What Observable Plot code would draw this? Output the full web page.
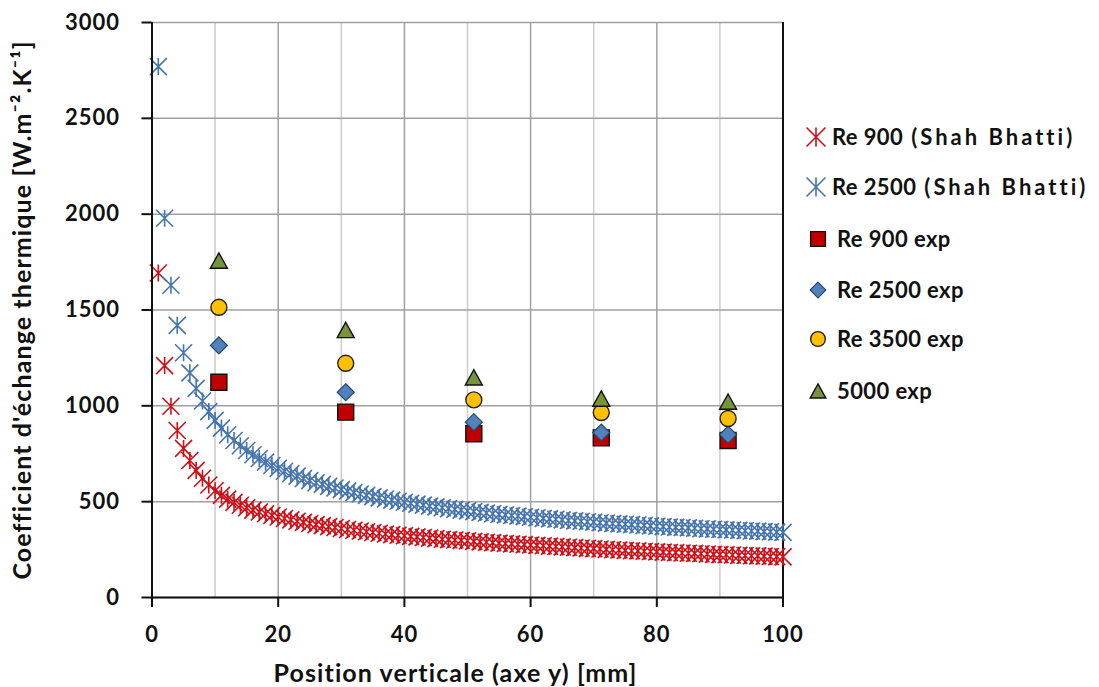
<!DOCTYPE html>
<html><head><meta charset="utf-8">
<script src="https://cdn.jsdelivr.net/npm/d3@7"></script>
<script src="https://cdn.jsdelivr.net/npm/@observablehq/plot@0.6"></script>
<style>
body{margin:0;background:#fff;}
#wrap{position:relative;width:1099px;height:687px;font-family:Lato,sans-serif;font-weight:bold;}
.item{position:absolute;display:flex;align-items:center;white-space:nowrap;font-size:22px;color:#111;line-height:1;letter-spacing:0.4px;}
.item svg{overflow:visible}
.wide{letter-spacing:3px;margin-left:8px}
</style></head><body><div id="wrap"></div>
<script>
// ---- data ----
const positionMm = [1,2,3,4,5,6,7,8,9,10,11,12,13,14,15,16,17,18,19,20,21,22,23,24,25,26,27,28,29,30,31,32,33,34,35,36,37,38,39,40,41,42,43,44,45,46,47,48,49,50,51,52,53,54,55,56,57,58,59,60,61,62,63,64,65,66,67,68,69,70,71,72,73,74,75,76,77,78,79,80,81,82,83,84,85,86,87,88,89,90,91,92,93,94,95,96,97,98,99,100];
const re900ShahBhatti = [1693,1210,998,871,778,715,663,622,587,557,
 533,513,496,481,468,456,446,437,428,420,
 412,405,398,392,386,380,375,370,365,360,
 355,351,347,343,339,335,331,328,325,322,
 319,316,313,310,307,304,302,300,298,296,
 293,290,288,286,284,282,280,278,276,274,
 272,270,268,266,264,262,260,258,256,255,
 253,251,249,248,246,244,243,241,240,238,
 237,235,234,232,231,230,228,227,225,224,
 223,222,220,219,218,217,216,214,213,212];
const re2500ShahBhatti = [2770,1979,1629,1420,1277,1172,1091,1025,970,924,
 884,849,819,792,767,745,725,706,689,674,
 659,646,633,621,610,599,590,580,571,563,
 555,547,540,533,526,520,514,508,502,497,
 492,487,482,477,473,468,464,460,456,452,
 448,444,441,437,434,431,428,425,422,419,
 416,413,410,408,405,402,400,398,395,393,
 390,388,386,384,382,380,378,376,374,372,
 370,368,366,365,363,361,359,358,356,355,
 353,352,350,348,347,346,344,343,341,340];
const expPositionMm = [10.6, 30.7, 51.0, 71.2, 91.3];
const re900Exp  = [1123, 967, 854, 833, 819];
const re2500Exp = [1315, 1071, 915, 861, 850];
const re3500Exp = [1514, 1222, 1031, 965, 934];
const re5000Exp = [1758, 1396, 1149, 1038, 1022];
const xTicks = [0, 20, 40, 60, 80, 100];
const xMinorGrid = [10, 30, 50, 70, 90];
const yTicks = [0, 500, 1000, 1500, 2000, 2500, 3000];
const legendLabels = [["Re 900", "(Shah Bhatti)"], ["Re 2500", "(Shah Bhatti)"], ["Re 900 exp"], ["Re 2500 exp"], ["Re 3500 exp"], ["5000 exp"]];

// ---- symbols ----
const rOf = s => Math.sqrt(s / Math.PI);
const asterisk = {draw(c, s){const r=rOf(s); c.moveTo(-r,-r); c.lineTo(r,r); c.moveTo(-r,r); c.lineTo(r,-r); c.moveTo(0,-r); c.lineTo(0,r);}};
const square = {draw(c, s){const r=rOf(s); c.moveTo(-r,-r); c.lineTo(r,-r); c.lineTo(r,r); c.lineTo(-r,r); c.closePath();}};
const diamond = {draw(c, s){const r=rOf(s); c.moveTo(0,-r); c.lineTo(r,0); c.lineTo(0,r); c.lineTo(-r,0); c.closePath();}};
const circle = {draw(c, s){const r=rOf(s); c.moveTo(r,0); c.arc(0,0,r,0,2*Math.PI); c.closePath();}};
const triangle = {draw(c, s){const r=rOf(s); c.moveTo(0,-0.9*r); c.lineTo(r,0.9*r); c.lineTo(-r,0.9*r); c.closePath();}};

const red = "#cf1018", blue = "#4674ad";
const series = [
  {sym: asterisk, r: 8.5, fill: "none", stroke: red, sw: 1.6},
  {sym: asterisk, r: 8.5, fill: "none", stroke: blue, sw: 1.6},
  {sym: square, r: 8, fill: "#c00000", stroke: "#111", sw: 1.4},
  {sym: diamond, r: 8.5, fill: "#4f81bd", stroke: "#2b4768", sw: 1.2},
  {sym: circle, r: 8, fill: "#ffc000", stroke: "#222", sw: 1.4},
  {sym: triangle, r: 8.5, fill: "#77933c", stroke: "#111", sw: 1.4}
];
const sb = (ys) => positionMm.map((x, i) => ({x, y: ys[i]}));
const ex = (ys) => expPositionMm.map((x, i) => ({x, y: ys[i]}));
const datasets = [sb(re900ShahBhatti), sb(re2500ShahBhatti), ex(re900Exp), ex(re2500Exp), ex(re3500Exp), ex(re5000Exp)];

const chart = Plot.plot({
  width: 1099, height: 687,
  marginLeft: 151.5, marginRight: 316.5, marginTop: 22, marginBottom: 90,
  x: {domain: [0, 100], labelArrow: "none"},
  y: {domain: [0, 3000], labelArrow: "none"},
  style: {fontFamily: "Lato, sans-serif", fontSize: "22px", fontWeight: "bold", color: "#111", background: "white", overflow: "visible"},
  marks: [
    Plot.gridX(xMinorGrid, {stroke: "#cccccc", strokeOpacity: 1, strokeWidth: 1.5}),
    Plot.gridX(xTicks, {stroke: "#a0a0a0", strokeOpacity: 1, strokeWidth: 1.5}),
    Plot.gridY(yTicks, {stroke: "#a0a0a0", strokeOpacity: 1, strokeWidth: 1.5}),
    Plot.ruleX([100], {stroke: "#111", strokeWidth: 2}),
    ...series.map((s, i) => Plot.dot(datasets[i], {x: "x", y: "y", symbol: s.sym, r: s.r, fill: s.fill, stroke: s.stroke, strokeWidth: s.sw})),
    Plot.ruleY([0], {stroke: "#111", strokeWidth: 2}),
    Plot.ruleX([0], {stroke: "#111", strokeWidth: 2}),
    Plot.axisX({ticks: xTicks, tickSize: 10, tickPadding: 19, stroke: "#111", strokeWidth: 2,
      label: "Position verticale (axe y) [mm]", labelAnchor: "center", labelOffset: 84, labelArrow: "none"}),
    Plot.axisY({ticks: yTicks, tickSize: 10, tickPadding: 22, stroke: "#111", strokeWidth: 2, tickFormat: d3.format("d"),
      label: "Coefficient d'échange thermique [W.m⁻².K⁻¹]", labelAnchor: "center", labelOffset: 139, labelArrow: "none"})
  ]
});
// strip any arrow, enlarge axis titles
d3.select(chart).selectAll("text").each(function() {
  const t = this.textContent;
  if (/[→↑←↓]/.test(t)) this.textContent = t.replace(/\s*[→↑←↓]\s*/g, "");
});
d3.select(chart).selectAll('[aria-label="x-axis label"], [aria-label="y-axis label"]')
  .style("font-size", "25px").style("letter-spacing", "1.1px");
d3.select(chart).selectAll('[aria-label="x-axis label"]').each(function() {
  const prev = this.getAttribute("transform") || "";
  this.setAttribute("transform", "translate(-12,0) " + prev);
});
d3.select(chart).selectAll('[aria-label="x-axis tick label"], [aria-label="y-axis tick label"]')
  .style("letter-spacing", "1px");

const wrap = document.getElementById("wrap");
wrap.appendChild(chart);

// ---- legend ----
const legendY = [137, 187, 239, 290, 339, 391];
const legendTextX = [832, 832, 837, 837, 837, 837];
series.forEach((s, i) => {
  const div = document.createElement("div");
  div.className = "item";
  div.style.left = "806px";
  div.style.top = (legendY[i] - 12) + "px";
  div.style.height = "24px";
  const svg = d3.create("svg").attr("width", legendTextX[i] - 806).attr("height", 24);
  const cx = i < 2 ? 10 : 12;
  svg.append("path").attr("transform", `translate(${cx},12)`)
    .attr("d", d3.symbol(s.sym, Math.PI * (i < 2 ? 90 : s.r * s.r * 0.85))())
    .attr("fill", s.fill).attr("stroke", s.stroke).attr("stroke-width", s.sw);
  div.appendChild(svg.node());
  legendLabels[i].forEach((part, j) => {
    const t = document.createElement("span");
    t.textContent = part;
    if (j > 0) t.className = "wide";
    div.appendChild(t);
  });
  wrap.appendChild(div);
});
</script></body></html>
